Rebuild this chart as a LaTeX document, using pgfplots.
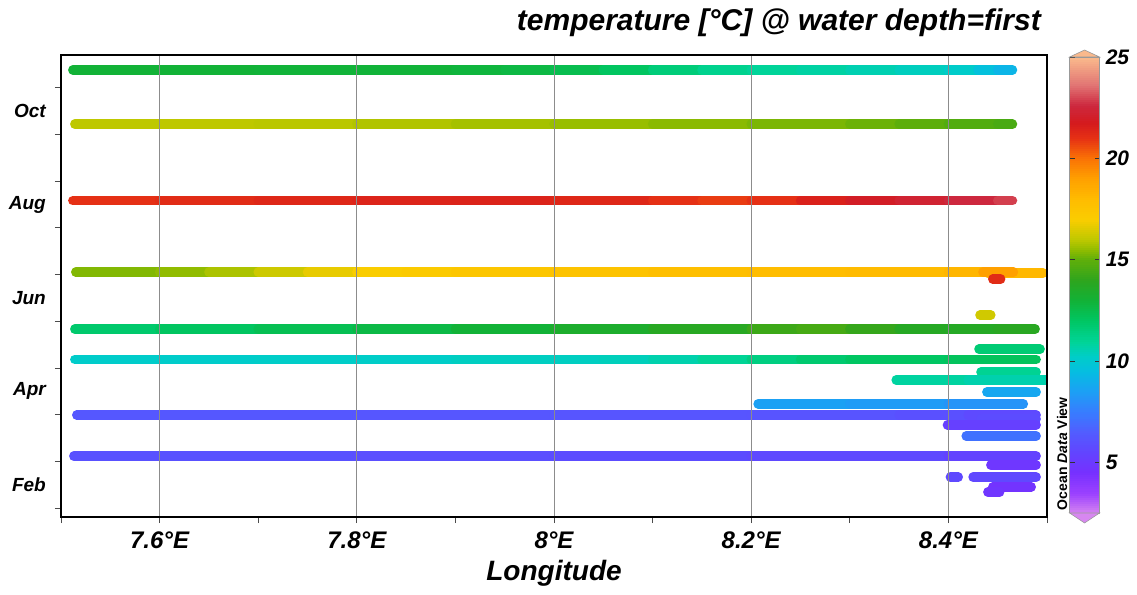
\documentclass[border=0pt]{standalone}
\usepackage{fontspec}
\setmainfont{Liberation Sans}
\usepackage{pgfplots}
\pgfplotsset{compat=1.18}
\pgfplotsset{
 colormap={odv}{rgb255(2.5cm)=(215,135,240) rgb255(3.5cm)=(155,65,255) rgb255(4.5cm)=(118,48,255) rgb255(5.5cm)=(98,68,255) rgb255(6.5cm)=(82,92,255) rgb255(7.5cm)=(55,125,255) rgb255(8.5cm)=(28,160,245) rgb255(9.5cm)=(5,190,225) rgb255(10.25cm)=(0,205,200) rgb255(11cm)=(0,212,150) rgb255(12cm)=(0,198,98) rgb255(13cm)=(18,178,55) rgb255(14cm)=(45,165,30) rgb255(15cm)=(95,175,10) rgb255(15.5cm)=(145,188,0) rgb255(16cm)=(190,200,0) rgb255(17cm)=(250,205,0) rgb255(18cm)=(255,188,0) rgb255(19cm)=(255,160,0) rgb255(20cm)=(250,115,5) rgb255(21cm)=(230,50,20) rgb255(21.8cm)=(212,26,30) rgb255(22.6cm)=(205,40,62) rgb255(23.6cm)=(225,115,115) rgb255(25cm)=(250,185,140)},
 cruise/.style={mesh, line width=9.5pt, line cap=round, point meta=explicit},
}
\definecolor{cbtop}{RGB}{250,185,140}
\definecolor{cbbot}{RGB}{215,135,240}
\begin{document}
\begin{tikzpicture}
\path[use as bounding box] (-61pt,-77pt) rectangle (1076pt,517pt);
\begin{axis}[
 at={(0,0)}, anchor=south west,
 scale only axis, width=986pt, height=462pt,
 xmin=7.5, xmax=8.5, ymin=1.807, ymax=11.70,
 axis on top,
 axis line style={line width=2.4pt},
 xtick={7.6,7.8,8.0,8.2,8.4},
 xticklabels={7.6°E,7.8°E,8°E,8.2°E,8.4°E},
 minor xtick={7.5,7.7,7.9,8.1,8.3,8.5},
 ytick={2,...,11}, yticklabels={},
 extra y ticks={2.5,4.5,6.5,8.5,10.5},
 extra y tick labels={Feb,Apr,Jun,Aug,Oct},
 extra y tick style={major tick length=0pt, yticklabel style={anchor=east, inner sep=0pt, xshift=-15pt}},
 xtick pos=bottom, ytick pos=left,
 tick align=outside,
 major tick length=6pt, minor tick length=6pt,
 tick style={black!70, line width=0.7pt},
 xmajorgrids, grid style={black!45, line width=0.7pt},
 xticklabel style={font=\fontsize{24}{28}\selectfont\bfseries\itshape, anchor=base, inner sep=0pt},
 xticklabel shift=25pt,
 yticklabel style={font=\fontsize{19}{22}\selectfont\bfseries\itshape},
 xlabel={Longitude},
 xlabel style={font=\fontsize{28}{32}\selectfont\bfseries\itshape, at={(axis description cs:0.5,0)}, anchor=base, yshift=-63pt, inner sep=0pt},
 point meta min=2.5, point meta max=25, colormap name=odv,
 colorbar sampled,
 colorbar style={
   samples=226,
   at={(parent axis.south east)}, anchor=south west, xshift=14pt, yshift=4pt,
   scale only axis, width=30pt, height=456pt,
   axis line style={black!40, line width=0.6pt},
   ytick={5,10,15,20,25}, yticklabels={5,10,15,20,25},
   ytick pos=both, yticklabel pos=right, tick align=inside,
   major tick length=5pt, tick style={black!80, line width=0.8pt},
   yticklabel style={font=\fontsize{21}{24}\selectfont\bfseries\itshape, anchor=west, inner sep=0pt, xshift=6pt},
   extra description/.code={
     \filldraw[fill=cbtop, draw=black!40, line width=0.6pt] (rel axis cs:0,1) -- (rel axis cs:1,1) -- ([yshift=7pt]rel axis cs:0.5,1) -- cycle;
     \filldraw[fill=cbbot, draw=black!40, line width=0.6pt] (rel axis cs:0,0) -- (rel axis cs:1,0) -- ([yshift=-10pt]rel axis cs:0.5,0) -- cycle;
     \node[rotate=90, anchor=south, inner sep=0pt, font=\fontsize{14}{16}\selectfont\bfseries] at ([xshift=-2pt]rel axis cs:0,0.13) {Ocean \textit{Data} View};
   },
 },
]
% Oct/Nov cruise
\addplot[cruise] table[meta=t] {
x y t
7.512 11.38 13.0
7.7 11.38 13.0
7.9 11.38 12.9
7.95 11.38 12.8
8.0 11.38 12.6
8.05 11.38 12.3
8.1 11.38 11.8
8.15 11.38 11.3
8.2 11.38 11.0
8.25 11.38 10.9
8.3 11.38 10.7
8.35 11.38 10.5
8.4 11.38 10.3
8.43 11.38 10.1
8.45 11.38 9.2
8.465 11.38 9.2
};
% Sep/Oct cruise
\addplot[cruise] table[meta=t] {
x y t
7.514 10.22 16.0
7.7 10.22 16.0
7.8 10.22 15.9
7.9 10.22 15.8
8.0 10.22 15.65
8.1 10.22 15.5
8.2 10.22 15.35
8.3 10.22 15.2
8.35 10.22 15.05
8.4 10.22 14.85
8.45 10.22 14.6
8.465 10.22 14.5
};
% Aug cruise
\addplot[cruise] table[meta=t] {
x y t
7.512 8.58 21.0
7.6 8.58 21.1
7.7 8.58 21.3
7.8 8.58 21.4
7.9 8.58 21.5
8.0 8.58 21.5
8.1 8.58 21.2
8.15 8.58 20.9
8.2 8.58 20.8
8.25 8.58 21.3
8.3 8.58 21.8
8.35 8.58 22.2
8.4 8.58 22.4
8.45 8.58 22.8
8.465 8.58 23.0
};
% Jul cruise
\addplot[cruise] table[meta=t] {
x y t
7.515 7.05 15.3
7.6 7.05 15.4
7.65 7.05 15.6
7.7 7.05 16.0
7.75 7.05 16.5
7.8 7.05 16.9
7.85 7.05 17.1
7.9 7.05 17.3
8.0 7.05 17.5
8.1 7.05 17.7
8.2 7.05 17.9
8.3 7.05 18.0
8.4 7.05 18.1
8.46 7.05 18.3
};
\addplot[cruise] table[meta=t] {
x y t
8.44 7.03 18.2
8.496 7.03 18.1
};
\addplot[cruise] table[meta=t] {
x y t
8.435 7.05 19.0
8.466 7.05 19.0
};
\addplot[cruise] table[meta=t] {
x y t
8.445 6.90 21.2
8.453 6.90 21.2
};
\addplot[cruise] table[meta=t] {
x y t
8.432 6.13 16.3
8.443 6.13 16.3
};
% late May cruise
\addplot[cruise] table[meta=t] {
x y t
7.514 5.83 11.7
7.6 5.83 11.9
7.7 5.83 12.2
7.8 5.83 12.5
7.9 5.83 12.8
8.0 5.83 13.2
8.1 5.83 13.6
8.2 5.83 14.0
8.25 5.83 14.6
8.3 5.83 14.4
8.35 5.83 13.9
8.4 5.83 13.6
8.45 5.83 13.8
8.488 5.83 13.9
};
\addplot[cruise] table[meta=t] {
x y t
8.431 5.40 11.7
8.493 5.40 11.6
};
% early May cruise
\addplot[cruise] table[meta=t] {
x y t
7.514 5.18 10.2
7.7 5.18 10.2
7.9 5.18 10.3
8.05 5.18 10.4
8.1 5.18 10.5
8.15 5.18 10.8
8.2 5.18 11.2
8.25 5.18 11.6
8.3 5.18 11.9
8.4 5.18 12.1
8.489 5.18 12.2
};
\addplot[cruise] table[meta=t] {
x y t
8.433 4.91 11.1
8.489 4.91 11.0
};
\addplot[cruise] table[meta=t] {
x y t
8.347 4.74 10.9
8.42 4.74 10.8
8.50 4.74 10.5
};
\addplot[cruise] table[meta=t] {
x y t
8.439 4.48 8.8
8.489 4.48 8.7
};
\addplot[cruise] table[meta=t] {
x y t
8.207 4.23 8.6
8.3 4.23 8.5
8.4 4.23 8.3
8.476 4.23 8.0
};
% early Apr cruise
\addplot[cruise] table[meta=t] {
x y t
7.516 3.99 6.3
7.8 3.99 6.3
8.0 3.99 6.2
8.2 3.99 6.2
8.35 3.99 6.1
8.42 3.99 5.9
8.489 3.99 5.6
};
\addplot[cruise] table[meta=t] {
x y t
8.433 3.91 5.9
8.489 3.91 5.8
};
\addplot[cruise] table[meta=t] {
x y t
8.399 3.78 5.4
8.489 3.78 5.2
};
\addplot[cruise] table[meta=t] {
x y t
8.418 3.54 7.2
8.489 3.54 7.1
};
% early Mar cruise
\addplot[cruise] table[meta=t] {
x y t
7.513 3.11 6.1
7.8 3.11 6.0
8.0 3.11 5.9
8.2 3.11 5.8
8.4 3.11 5.6
8.489 3.11 5.3
};
\addplot[cruise] table[meta=t] {
x y t
8.443 2.92 4.9
8.489 2.92 4.8
};
\addplot[cruise] table[meta=t] {
x y t
8.402 2.66 5.7
8.41 2.66 5.7
};
\addplot[cruise] table[meta=t] {
x y t
8.425 2.66 5.7
8.489 2.66 5.6
};
\addplot[cruise] table[meta=t] {
x y t
8.445 2.45 4.7
8.484 2.45 4.6
};
\addplot[cruise] table[meta=t] {
x y t
8.44 2.34 4.8
8.452 2.34 4.8
};
\end{axis}
\node[anchor=base east, inner sep=0pt, font=\fontsize{30}{34}\selectfont\bfseries\itshape] at (980pt,486pt) {temperature [°C] @ water depth=first};
\end{tikzpicture}
\end{document}
